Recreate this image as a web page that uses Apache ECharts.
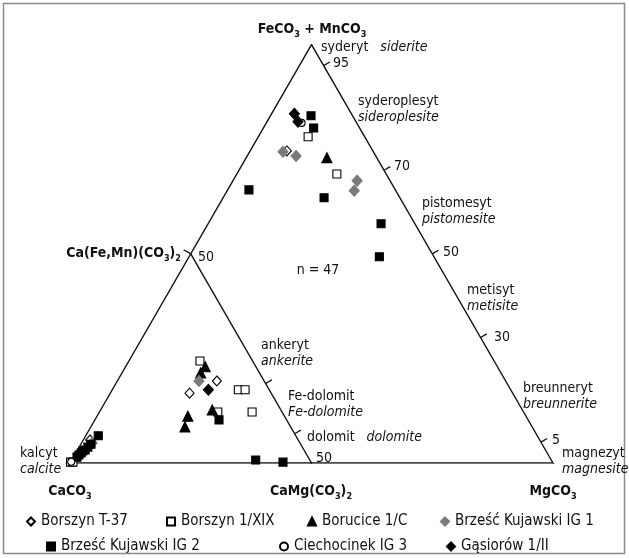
<!DOCTYPE html>
<html><head><meta charset="utf-8">
<script src="https://cdn.jsdelivr.net/npm/echarts@6/dist/echarts.min.js"></script>
<style>html,body{margin:0;padding:0;background:#fff}#c{width:629px;height:558px}</style>
</head><body><div id="c"></div>
<script>
// ---- data: compositions [CaCO3, MgCO3, FeCO3+MnCO3] in % ----
const seriesNames = ['Borszyn T-37','Borszyn 1/XIX','Borucice 1/C','Brześć Kujawski IG 1','Brześć Kujawski IG 2','Ciechocinek IG 3','Gąsiorów 1/II'];
const borszynT37 = [[17.8,7.6,74.6],[59.8,20.6,19.6],[66.9,16.4,16.7],[93.1,1.4,5.5]];
const borszyn1XIX = [[11.7,10.3,78.0],[10.2,20.7,69.1],[60.9,14.7,24.4],[56.4,26.1,17.5],[55.0,27.5,17.5],[63.3,24.5,12.2],[56.2,31.6,12.2],[99.8,0.0,0.2],[99.3,0.5,0.2]];
const borucice1C = [[10.3,16.7,73.0],[60.5,16.5,23.0],[62.2,16.3,21.5],[64.2,23.1,12.7],[70.0,18.8,11.2],[71.9,19.5,8.6]];
const brzescIG1 = [[18.7,6.9,74.4],[16.5,10.1,73.4],[6.8,25.7,67.5],[8.6,26.3,65.1],[63.5,16.9,19.6],[93.0,2.2,4.8]];
const brzescIG2 = [[8.6,8.4,83.0],[9.5,10.4,80.1],[30.3,4.4,65.3],[15.7,20.9,63.4],[7.0,35.8,57.2],[11.3,39.4,49.3],[64.0,25.7,10.3],[61.2,38.1,0.7],[55.8,44.0,0.2],[90.9,2.6,6.5],[93.4,2.1,4.5],[94.4,1.8,3.8],[95.3,1.6,3.1],[95.9,1.2,2.9],[96.5,1.1,2.4],[97.2,0.9,1.9],[97.85,0.75,1.4]];
const ciechocinekIG3 = [[11.4,7.3,81.3],[99.6,0.1,0.3]];
const gasiorow = [[11.8,4.7,83.5],[12.0,6.4,81.6],[62.6,19.9,17.5]];
// ticks on the Fe–Mg side (FeCO3 % labels)
const sideTicks = [95,70,50,30,5];
// ticks on the dolomite–ankerite join: [Ca, Mg, Fe]
const joinTicks = [[50,31,19],[50,43,7]];

const H = Math.sqrt(3)/2;
function tern(c){ const s=c[0]+c[1]+c[2]; const mg=c[1]/s*100, fe=c[2]/s*100; return [mg+fe/2, fe*H]; }
const FONT = '"Liberation Sans Narrow","DejaVu Sans Condensed","Arial Narrow",sans-serif';

const chart = echarts.init(document.getElementById('c'), null, {renderer:'canvas'});

const tri = [[100,0,0],[0,0,100],[0,100,0],[100,0,0]].map(tern);
const inner = [[50,0,50],[50,50,0]].map(tern);
const tickSegs = [];
function seg(p, dx, dy, len){ tickSegs.push({coords:[p,[p[0]+dx*len,p[1]+dy*len]]}); }
sideTicks.forEach(f=>seg(tern([0,100-f,f]),0.866,0.5,1.5));
joinTicks.forEach(c=>seg(tern(c),0.866,0.5,1.5));
seg(tern([50,0,50]),-0.866,0.5,1.7);
seg(tern([0,0,100]),0,1,1.6);
seg(tern([100,0,0]),0,-1,2.1);
seg(tern([50,50,0]),0,-1,2.1);
seg(tern([0,100,0]),0,-1,2.1);

const styles = [
  {symbol:'diamond', size:[9,10], color:'#fff', border:'#000'},
  {symbol:'rect', size:8, color:'#fff', border:'#000'},
  {symbol:'triangle', size:[10,10], color:'#000', border:'#000'},
  {symbol:'diamond', size:[10,11], color:'#7a7a7a', border:'#7a7a7a'},
  {symbol:'rect', size:8, color:'#000', border:'#000'},
  {symbol:'circle', size:7, color:'#fff', border:'#000'},
  {symbol:'diamond', size:[10,11], color:'#000', border:'#000'}
];
const datasets = [borszynT37,borszyn1XIX,borucice1C,brzescIG1,brzescIG2,ciechocinekIG3,gasiorow];

const scatter = datasets.map((d,i)=>({
  name: seriesNames[i], type:'scatter', data: d.map(tern), symbol: styles[i].symbol,
  symbolSize: styles[i].size, z: 5+i,
  itemStyle:{color:styles[i].color, borderColor:styles[i].border, borderWidth:1.1, opacity:1},
  silent:true
}));

const legendPos = [[26,514],[166,514],[307,514],[440,514],[46,539],[279,539],[446,539]];
const legends = seriesNames.map((n,i)=>({
  data:[n], left:legendPos[i][0], top:legendPos[i][1], itemWidth:8, itemHeight:8, itemGap:0,
  padding:0, selectedMode:false,
  textStyle:{fontFamily:FONT, fontSize:15, color:'#111', padding:[0,0,0,1]}
}));

const rich = {
  b:{fontFamily:FONT, fontWeight:'bold', fontSize:14, color:'#111', lineHeight:16, verticalAlign:'top'},
  s:{fontFamily:FONT, fontWeight:'bold', fontSize:9, color:'#111', lineHeight:10, padding:[8,0,0,0], verticalAlign:'top'},
  r:{fontFamily:FONT, fontSize:14, color:'#111'},
  i:{fontFamily:FONT, fontSize:14, fontStyle:'italic', color:'#111'}
};
function txt(x,y,text,align,extra){ return Object.assign({type:'text', x:x, y:y, z:50, style:{text:text, rich:rich, textAlign:align||'left', textVerticalAlign:'middle', font:'14px '+FONT, fill:'#111'}}, extra||{}); }

const graphics = [
  {type:'rect', shape:{x:3.5,y:3.5,width:621,height:550}, style:{fill:'none', stroke:'#8a8a8a', lineWidth:1.5}, z:0},
  txt(312,30,'{b|FeCO}{s|3}{b| + MnCO}{s|3}','center'),
  txt(181,254,'{b|Ca(Fe,Mn)(CO}{s|3}{b|)}{s|2}','right'),
  txt(70,492,'{b|CaCO}{s|3}','center'),
  txt(311,492,'{b|CaMg(CO}{s|3}{b|)}{s|2}','center'),
  txt(553,492,'{b|MgCO}{s|3}','center'),
  txt(321,47,'{r|syderyt}   {i|siderite}'),
  txt(333,63,'{r|95}'),
  txt(358,101,'{r|syderoplesyt}'),
  txt(358,117,'{i|sideroplesite}'),
  txt(394,166,'{r|70}'),
  txt(422,203,'{r|pistomesyt}'),
  txt(422,219,'{i|pistomesite}'),
  txt(443,252,'{r|50}'),
  txt(467,290,'{r|metisyt}'),
  txt(467,306,'{i|metisite}'),
  txt(494,337,'{r|30}'),
  txt(523,388,'{r|breunneryt}'),
  txt(523,404,'{i|breunnerite}'),
  txt(552,440,'{r|5}'),
  txt(562,453,'{r|magnezyt}'),
  txt(562,469,'{i|magnesite}'),
  txt(198,257,'{r|50}'),
  txt(318,270,'{r|n = 47}','center'),
  txt(261,345,'{r|ankeryt}'),
  txt(261,361,'{i|ankerite}'),
  txt(288,396,'{r|Fe-dolomit}'),
  txt(288,412,'{i|Fe-dolomite}'),
  txt(307,437,'{r|dolomit}   {i|dolomite}'),
  txt(316,458,'{r|50}'),
  txt(20,453,'{r|kalcyt}'),
  txt(20,469,'{i|calcite}')
];

chart.setOption({
  animation:false,
  grid:{left:70, right:76, top:44.7, bottom:95},
  xAxis:{type:'value', min:0, max:100, show:false},
  yAxis:{type:'value', min:0, max:100*H, show:false},
  legend: legends,
  graphic: graphics,
  series: [
    {type:'line', data:tri, symbol:'none', silent:true, lineStyle:{color:'#111', width:1.4}, z:2},
    {type:'line', data:inner, symbol:'none', silent:true, lineStyle:{color:'#111', width:1.4}, z:2},
    {type:'lines', coordinateSystem:'cartesian2d', data:tickSegs, silent:true, lineStyle:{color:'#111', width:1.3, opacity:1}, z:2}
  ].concat(scatter)
});
</script></body></html>
